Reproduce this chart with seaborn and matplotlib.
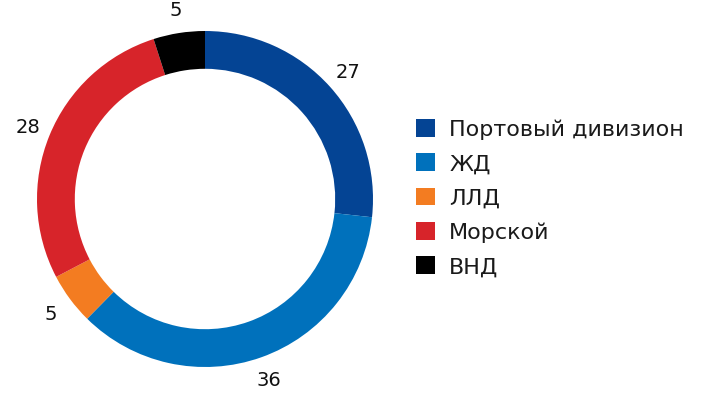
import matplotlib
matplotlib.use("Agg")
import matplotlib.pyplot as plt
import seaborn as sns
from matplotlib.patches import Patch

categories = ['Портовый дивизион', 'ЖД', 'ЛЛД', 'Морской', 'ВНД']
values = [27, 36, 5, 28, 5]
colors = ['#044494', '#0071bc', '#f37c21', '#d7242a', '#000000']

sns.set_theme(style="white")
plt.rcParams['font.family'] = ['DejaVu Sans']

fig = plt.figure(figsize=(7.2, 4.02), dpi=100)
# pie axes: centre at (205, 200) px, outer radius 168 px
R = 168
lim = 1.2
ax = fig.add_axes([(205 - R * lim) / 720, (202 - R * lim) / 402,
                   2 * R * lim / 720, 2 * R * lim / 402])

wedges, texts = ax.pie(values, colors=colors, startangle=90, counterclock=False,
                       labels=[str(v) for v in values], labeldistance=1.14,
                       wedgeprops=dict(width=0.225, edgecolor='none'),
                       textprops=dict(fontsize=14, color='#111111'))
for t in texts:
    t.set_horizontalalignment('center')
    t.set_verticalalignment('center')
ax.set_xlim(-lim, lim)
ax.set_ylim(-lim, lim)
ax.set_aspect('equal')
ax.axis('off')

handles = [Patch(facecolor=c, edgecolor='none') for c in colors]
leg = fig.legend(handles, categories, loc='upper left', bbox_to_anchor=(407 / 720, 1 - 111 / 402),
                 frameon=False, fontsize=16, handlelength=0.85, handleheight=0.85,
                 handletextpad=0.65, labelspacing=0.62, borderaxespad=0)
for t in leg.get_texts():
    t.set_color('#1a1a1a')

fig.savefig('out.png', dpi=100)
